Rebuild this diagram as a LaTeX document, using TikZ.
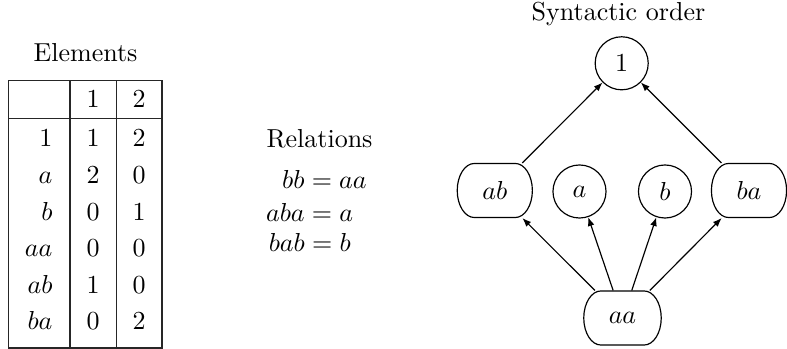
\documentclass[tikz,border=0pt]{standalone}
\usetikzlibrary{arrows.meta}
% #1 node name, #2 half width (pt)
\newcommand\pilloutline[2]{%
  \begin{scope}[shift={(#1.center)},x=1pt,y=1pt]
  \pgfmathsetmacro\pw{#2}
  \pgfmathsetmacro\pa{#2-6.6}
  \pgfmathsetmacro\pc{#2-6.6+3.645}
  \draw[line width=0.45pt] (-\pa,10.4) -- (\pa,10.4)
    .. controls (\pc,10.4) and (\pw,5.744) .. (\pw,0)
    .. controls (\pw,-5.744) and (\pc,-10.4) .. (\pa,-10.4)
    -- (-\pa,-10.4)
    .. controls (-\pc,-10.4) and (-\pw,-5.744) .. (-\pw,0)
    .. controls (-\pw,5.744) and (-\pc,10.4) .. cycle;
  \end{scope}}
\begin{document}
\begin{tikzpicture}[x=0.3846pt,y=-0.3846pt,
  circ/.style={circle,draw,line width=0.45pt,minimum size=20.4pt,inner sep=0pt},
  rnd/.style={rectangle,draw=none,minimum width=28.9pt,minimum height=20.8pt,inner sep=0pt},
  arr/.style={-{Latex[length=3.4pt,width=2.6pt]},line width=0.45pt},
  grid/.style={line width=0.45pt,draw=black!85},
  cell/.style={anchor=base,inner sep=0pt},
  lab/.style={anchor=base east,inner sep=0pt},
  title/.style={anchor=base,inner sep=0pt}]
\useasboundingbox (0,0) rectangle (787,349);
% ---- Elements table
\node[title] (tElem) at (85.5,62) {Elements};
\draw[grid] (8.5,80.5) rectangle (162,348);
\draw[grid] (8.5,118.3) -- (162,118.3);
\draw[grid] (70,80.5) -- (70,348);
\draw[grid] (116.3,80.5) -- (116.3,348);
\node[cell] (h1) at (93,108) {1};
\node[cell] (h2) at (139.2,108) {2};
\foreach \lbl/\u/\v [count=\k from 0] in {1/1/2, $a$/2/0, $b$/0/1, $aa$/0/0, $ab$/1/0, $ba$/0/2}{
  \node[lab] (r\k) at (53,147+36.6*\k) {\lbl};
  \node[cell] (c\k a) at (93,147+36.6*\k) {\u};
  \node[cell] (c\k b) at (139.2,147+36.6*\k) {\v};
}
% ---- Relations
\node[title] (tRel) at (319.5,148) {Relations};
\node[anchor=base west,inner sep=0pt] (e1) at (281.7,188.3) {$bb = aa$};
\node[anchor=base west,inner sep=0pt] (e2) at (265.5,221.7) {$aba = a$};
\node[anchor=base west,inner sep=0pt] (e3) at (268.3,251.5) {$bab = b$};
% ---- Syntactic order
\node[title] (tSyn) at (618.5,20.5) {Syntactic order};
\node[circ] (n1) at (621.7,63.3) {1};
\node[rnd] (nab) at (494.8,190.5) {$ab$};
\node[circ] (na) at (579.5,191.5) {$a$};
\node[circ] (nb) at (665,191.5) {$b$};
\node[rnd] (nba) at (749,190.5) {$ba$};
\node[rnd,minimum width=29.8pt] (naa) at (622.5,318) {$aa$};
\pilloutline{nab}{14.45}
\pilloutline{nba}{14.45}
\pilloutline{naa}{14.9}
\draw[arr] (nab) -- (n1);
\draw[arr] (nba) -- (n1);
\draw[arr] (naa) -- (nab);
\draw[arr] (naa) -- (na);
\draw[arr] (naa) -- (nb);
\draw[arr] (naa) -- (nba);
\end{tikzpicture}
\end{document}
